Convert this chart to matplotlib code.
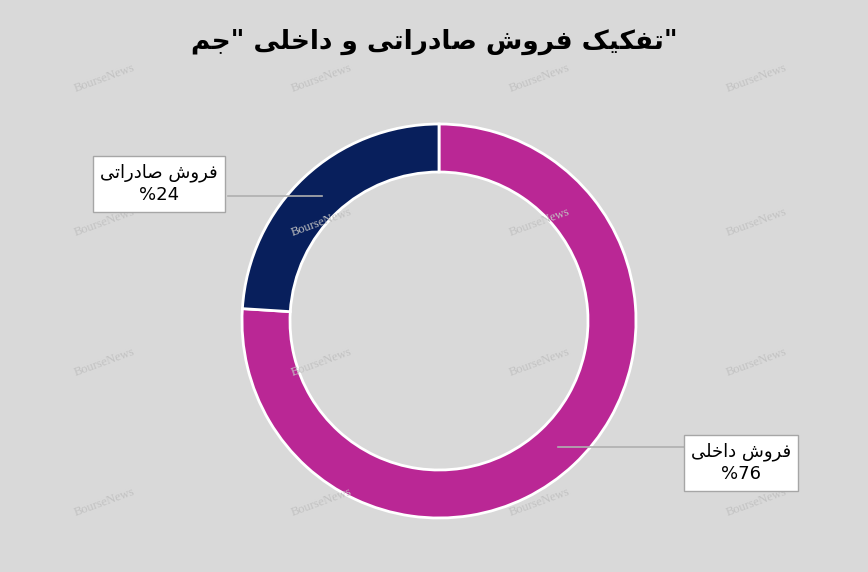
import matplotlib
matplotlib.use("Agg")
import matplotlib.pyplot as plt

labels = ["فروش داخلی", "فروش صادراتی"]
values = [76, 24]
pct_labels = ["%76", "%24"]
colors = ["#BA2795", "#081F5C"]
title = '"تفکیک فروش صادراتی و داخلی "جم'

FORMS = {  # isolated, final, initial, medial
    'ت': ('\uFE95', '\uFE96', '\uFE97', '\uFE98'),
    'ف': ('\uFED1', '\uFED2', '\uFED3', '\uFED4'),
    'ک': ('\uFB8E', '\uFB8F', '\uFB90', '\uFB91'),
    'ی': ('\uFBFC', '\uFBFD', '\uFBFE', '\uFBFF'),
    'ش': ('\uFEB5', '\uFEB6', '\uFEB7', '\uFEB8'),
    'ص': ('\uFEB9', '\uFEBA', '\uFEBB', '\uFEBC'),
    'ل': ('\uFEDD', '\uFEDE', '\uFEDF', '\uFEE0'),
    'خ': ('\uFEA5', '\uFEA6', '\uFEA7', '\uFEA8'),
    'ج': ('\uFE9D', '\uFE9E', '\uFE9F', '\uFEA0'),
    'م': ('\uFEE1', '\uFEE2', '\uFEE3', '\uFEE4'),
    'و': ('\uFEED', '\uFEEE', None, None),
    'ر': ('\uFEAD', '\uFEAE', None, None),
    'ا': ('\uFE8D', '\uFE8E', None, None),
    'د': ('\uFEA9', '\uFEAA', None, None),
}

def shape(s):
    out = []
    for i, c in enumerate(s):
        if c not in FORMS:
            out.append(c); continue
        prev = s[i-1] if i > 0 else ''
        nxt = s[i+1] if i + 1 < len(s) else ''
        jp = prev in FORMS and FORMS[prev][2] is not None
        jn = nxt in FORMS and FORMS[c][2] is not None
        f = FORMS[c]
        if jp and jn: out.append(f[3])
        elif jp: out.append(f[1])
        elif jn: out.append(f[2])
        else: out.append(f[0])
    return ''.join(out)[::-1]

fig = plt.figure(figsize=(8.68, 5.72), dpi=100)
fig.patch.set_facecolor("#D9D9D9")

pax = fig.add_axes([(439-200)/868, 1-(321+200)/572, 400/868, 400/572])
pax.set_aspect("equal")
pax.pie(values, colors=colors, startangle=90, counterclock=False, radius=197/200,
        wedgeprops=dict(width=48/200, edgecolor="white", linewidth=2))
pax.set_xlim(-1, 1); pax.set_ylim(-1, 1)

ax = fig.add_axes([0, 0, 1, 1])
ax.patch.set_alpha(0)
ax.set_xlim(0, 868); ax.set_ylim(572, 0)
ax.axis("off")

# watermarks
for x in [105, 322, 540, 757]:
    for y in [78, 222, 362, 502]:
        ax.text(x, y, "BourseNews", rotation=20, ha="center", va="center",
                fontsize=9, color="#C2C2C2", family="Liberation Serif")

ax.text(434, 42, shape(title), ha="center", va="center", fontsize=19,
        fontweight="bold", family="DejaVu Sans")

boxes = [((741, 463), (558, 447), (795, 447)), ((159, 184), (322, 196), (228, 196))]
for (lab, pct, (c, p, anchor)) in zip(labels, pct_labels, boxes):
    ax.plot([p[0], anchor[0]], [p[1], anchor[1]], color="#B0B0B0", lw=1.2, zorder=3)
    ax.text(c[0], c[1], shape(lab) + "\n" + pct, ha="center", va="center",
            fontsize=13, family="DejaVu Sans", linespacing=1.3, zorder=4,
            bbox=dict(boxstyle="square,pad=0.4", fc="white", ec="#A6A6A6", lw=1))

fig.savefig("out.png", dpi=100, facecolor=fig.get_facecolor())
